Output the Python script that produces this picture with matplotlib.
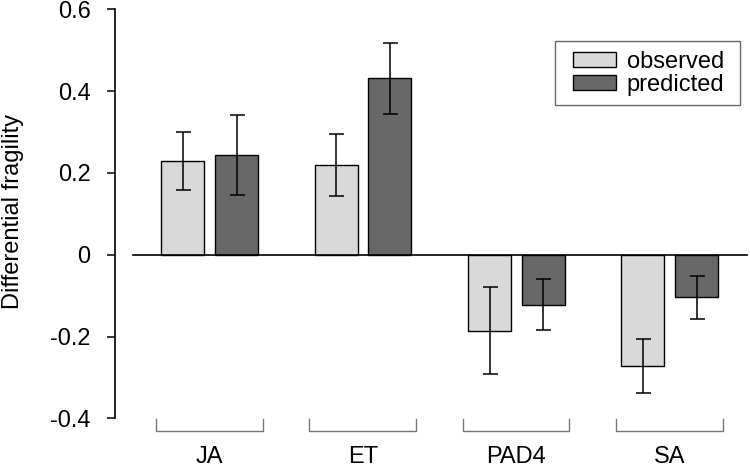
import matplotlib
matplotlib.use("Agg")
import matplotlib.pyplot as plt
from matplotlib.patches import Rectangle
import numpy as np

categories = ["JA", "ET", "PAD4", "SA"]
series_names = ["observed", "predicted"]
observed = [0.228, 0.219, -0.186, -0.272]
observed_err = [0.071, 0.075, 0.106, 0.065]
predicted = [0.244, 0.431, -0.122, -0.104]
predicted_err = [0.097, 0.086, 0.063, 0.053]
yticks = [-0.4, -0.2, 0, 0.2, 0.4, 0.6]
ytick_labels = ["-0.4", "-0.2", "0", "0.2", "0.4", "0.6"]

plt.rcParams['font.family'] = ['Liberation Sans', 'DejaVu Sans']
FS = 17

W, H = 750, 472
fig = plt.figure(figsize=(W / 100, H / 100), dpi=100)
ax_left, ax_right = 115, 747
ax_top, ax_bot = 9.3, 418.3
ax = fig.add_axes([ax_left / W, (H - ax_bot) / H, (ax_right - ax_left) / W, (ax_bot - ax_top) / H])

x = np.arange(len(categories))
width = 0.28
off = 0.175
col_obs = "#d9d9d9"
col_pred = "#686868"

b1 = ax.bar(x - off, observed, width, color=col_obs, edgecolor="black", linewidth=1.0,
            label=series_names[0], zorder=2)
b2 = ax.bar(x + off, predicted, width, color=col_pred, edgecolor="black", linewidth=1.0,
            label=series_names[1], zorder=2)
ax.errorbar(x - off, observed, yerr=observed_err, fmt="none", ecolor="black",
            elinewidth=1.1, capsize=5.4, capthick=1.1, zorder=3)
ax.errorbar(x + off, predicted, yerr=predicted_err, fmt="none", ecolor="black",
            elinewidth=1.1, capsize=5.4, capthick=1.1, zorder=3)

xmin = -0.618
xmax = 3.504
ax.set_xlim(xmin, xmax)
ax.set_ylim(-0.4, 0.6)
ax.plot([-0.5, xmax], [0, 0], color="black", linewidth=1.2, zorder=4, clip_on=False)

# group brackets below the axis
for xi in x:
    bx = [xi - 0.35, xi - 0.35, xi + 0.345, xi + 0.345]
    by = [-0.402, -0.431, -0.431, -0.402]
    ax.plot(bx, by, color="#777777", linewidth=1.0, clip_on=False)

for s in ["top", "right", "bottom"]:
    ax.spines[s].set_visible(False)
ax.spines["left"].set_linewidth(1.2)
ax.set_yticks(yticks)
ax.set_yticklabels(ytick_labels, fontsize=FS)
ax.tick_params(axis="y", length=6, width=1.1, pad=11.5)
ax.set_xticks(x)
ax.set_xticklabels(categories, fontsize=FS)
ax.tick_params(axis="x", length=0, pad=20)

fig.text(13.5 / W, (H - 211) / H, "Differential fragility", fontsize=FS,
         rotation=90, ha="center", va="center")

# legend frame and entries
fig.patches.append(Rectangle((555 / W, (H - 105) / H), 185 / W, 64 / H,
                             transform=fig.transFigure, facecolor="white",
                             edgecolor="#666666", linewidth=1.0, zorder=5))
leg = fig.legend([b1, b2], series_names, loc="upper left",
                 bbox_to_anchor=(573 / W, (H - 51) / H),
                 bbox_transform=fig.transFigure, fontsize=FS, frameon=False,
                 handlelength=1.82, handleheight=0.6, handletextpad=0.46,
                 labelspacing=0.04, borderpad=0, borderaxespad=0)
leg.set_zorder(6)

fig.savefig("out.png", dpi=100)
